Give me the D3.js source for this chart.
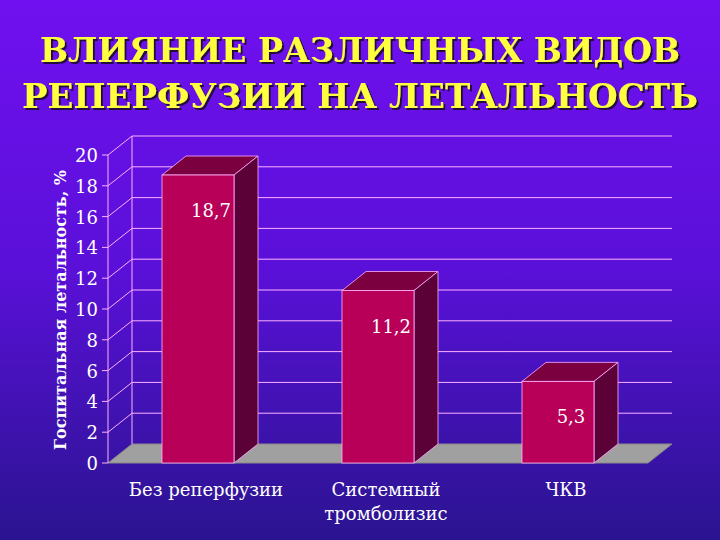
<!DOCTYPE html>
<html><head><meta charset="utf-8">
<script src="https://cdn.jsdelivr.net/npm/d3@7"></script>
<style>body{margin:0}svg{display:block}</style>
</head><body><div id="chart"></div>
<script>
const categories = ['Без реперфузии', 'Системный|тромболизис', 'ЧКВ']
const values = [18.7, 11.2, 5.3]
const valueLabels = ['18,7', '11,2', '5,3']
const ticks = [0, 2, 4, 6, 8, 10, 12, 14, 16, 18, 20]

const W = 720, H = 540
const dx = 24, dy = -19
const svg = d3.select('#chart').append('svg').attr('width', W).attr('height', H)
const defs = svg.append('defs')
const g = defs.append('linearGradient').attr('id', 'bg').attr('x1', 0).attr('y1', 0).attr('x2', 0).attr('y2', 1)
g.append('stop').attr('offset', 0).attr('stop-color', '#7010f0')
g.append('stop').attr('offset', 0.5).attr('stop-color', '#5a10d8')
g.append('stop').attr('offset', 1).attr('stop-color', '#2a1490')
svg.append('rect').attr('width', W).attr('height', H).attr('fill', 'url(#bg)')
defs.append('filter').attr('id', 'sh').append('feDropShadow')
  .attr('dx', 2).attr('dy', 2).attr('stdDeviation', 0.5).attr('flood-color', '#201040')

const font = '"DejaVu Serif", "Liberation Serif", serif'
const title = ['ВЛИЯНИЕ РАЗЛИЧНЫХ ВИДОВ', 'РЕПЕРФУЗИИ НА ЛЕТАЛЬНОСТЬ']
title.forEach((t, i) => {
  svg.append('text').attr('x', 360).attr('y', 62 + i * 46).attr('text-anchor', 'middle')
    .attr('font-family', font).attr('font-weight', 'bold').attr('font-size', 34)
    .attr('textLength', i ? 676 : 640).attr('lengthAdjust', 'spacingAndGlyphs')
    .attr('fill', '#ffff40').attr('filter', 'url(#sh)').text(t)
})

const x0 = 108, x1 = 648
const y = d3.scaleLinear().domain([0, 20]).range([463, 155])
const x = d3.scaleBand().domain(categories).range([x0, x1]).paddingInner(0.6).paddingOuter(0.3)
const edge = '#ffb0ff'

svg.append('path').attr('fill', '#a0a0a0').attr('stroke', '#888')
  .attr('d', `M${x0},${y(0)}L${x1},${y(0)}L${x1 + dx},${y(0) + dy}L${x0 + dx},${y(0) + dy}Z`)
svg.append('path').attr('fill', 'none').attr('stroke', edge).attr('stroke-width', 1)
  .attr('d', `M${x0},${y(0)}L${x0},${y(20)}M${x0 + dx},${y(0) + dy}L${x0 + dx},${y(20) + dy}`)
ticks.forEach(t => {
  if (t > 0) svg.append('path').attr('fill', 'none').attr('stroke', edge).attr('stroke-width', 1)
    .attr('d', `M${x0},${y(t)}L${x0 + dx},${y(t) + dy}L${x1 + dx},${y(t) + dy}`)
  svg.append('line').attr('x1', x0 - 6).attr('x2', x0).attr('y1', y(t)).attr('y2', y(t)).attr('stroke', edge)
  svg.append('text').attr('x', x0 - 10).attr('y', y(t) + 7).attr('text-anchor', 'end')
    .attr('font-family', font).attr('font-size', 18).attr('fill', '#fff').text(t)
})

categories.forEach((c, i) => {
  const bx = x(c), bw = x.bandwidth(), top = y(values[i]), bot = y(0)
  svg.append('path').attr('fill', '#7a0040').attr('stroke', edge).attr('stroke-width', 0.8)
    .attr('d', `M${bx},${top}L${bx + dx},${top + dy}L${bx + bw + dx},${top + dy}L${bx + bw},${top}Z`)
  svg.append('path').attr('fill', '#5c0038').attr('stroke', edge).attr('stroke-width', 0.8)
    .attr('d', `M${bx + bw},${top}L${bx + bw + dx},${top + dy}L${bx + bw + dx},${bot + dy}L${bx + bw},${bot}Z`)
  svg.append('rect').attr('x', bx).attr('y', top).attr('width', bw).attr('height', bot - top)
    .attr('fill', '#b80058').attr('stroke', edge).attr('stroke-width', 0.8)
  svg.append('text').attr('x', bx + bw / 2 + 13).attr('y', top + 42).attr('text-anchor', 'middle')
    .attr('font-family', font).attr('font-size', 18).attr('fill', '#fff').text(valueLabels[i])
  c.split('|').forEach((line, j) => {
    svg.append('text').attr('x', bx + bw / 2 + 8).attr('y', 496 + j * 24).attr('text-anchor', 'middle')
      .attr('font-family', font).attr('font-size', 18).attr('fill', '#fff').text(line)
  })
})

svg.append('text').attr('transform', 'translate(66,310) rotate(-90)').attr('text-anchor', 'middle')
  .attr('font-family', font).attr('font-weight', 'bold').attr('font-size', 16).attr('fill', '#fff')
  .text('Госпитальная летальность, %')
</script></body></html>
